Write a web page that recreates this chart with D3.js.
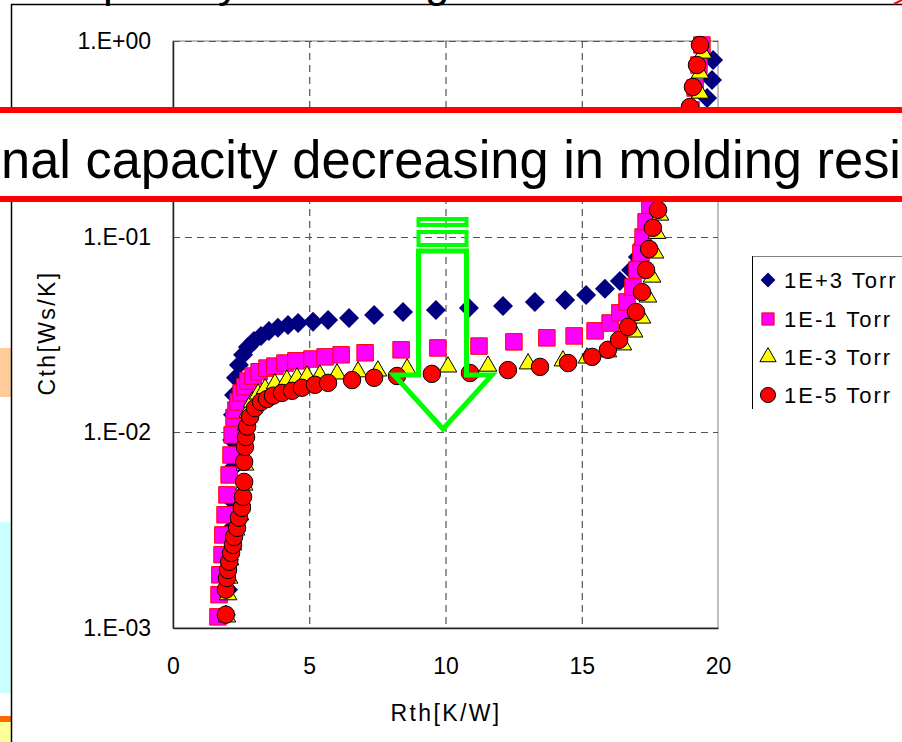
<!DOCTYPE html>
<html><head><meta charset="utf-8">
<script src="https://cdn.jsdelivr.net/npm/d3@7"></script>
<style>
body{margin:0;background:#fff;overflow:hidden;}
svg{display:block;font-family:"Liberation Sans",Arial,sans-serif;}
</style>
</head><body><svg id="c" width="902" height="742"></svg>
<script>
// ---------- data ----------
const seriesNames = ["1E+3 Torr","1E-1 Torr","1E-3 Torr","1E-5 Torr"];
const xTicks = [0,5,10,15,20];
const yTicks = [1e-3,1e-2,1e-1,1];
const yTickLabels = ["1.E-03","1.E-02","1.E-01","1.E+00"];
const bannerText = "nal capacity decreasing in molding resi";
const xTitle = "Rth[K/W]";
const yTitle = "Cth[Ws/K]";

const rthA = [1.94,2.02,2.06,2.09,2.13,2.13,2.17,2.20,2.24,2.31,2.42,2.57,2.75,2.97,3.23,3.52,3.85,4.22,4.59,5.14,5.69,6.46,7.38,8.44,9.65,10.86,12.11,13.28,14.39,15.16,15.85,16.40,16.81,17.06,17.25,17.39,17.54,17.85,18.40,18.95,19.35,19.60,19.78,19.82];
const cthA = [1.17e-3,1.57e-3,2.23e-3,3.17e-3,4.52e-3,6.43e-3,9.15e-3,1.23e-2,1.55e-2,1.90e-2,2.21e-2,2.49e-2,2.73e-2,2.93e-2,3.11e-2,3.30e-2,3.42e-2,3.54e-2,3.62e-2,3.67e-2,3.75e-2,3.84e-2,3.98e-2,4.12e-2,4.22e-2,4.32e-2,4.42e-2,4.64e-2,4.75e-2,5.04e-2,5.41e-2,5.94e-2,6.76e-2,7.87e-2,9.18e-2,0.108,0.129,0.17,0.23,0.31,0.40,0.511,0.632,0.80];

const rthB = [1.65,1.69,1.72,1.80,1.83,1.91,1.98,2.06,2.13,2.17,2.24,2.31,2.39,2.50,2.64,2.75,2.94,3.16,3.45,3.74,4.11,4.51,5.10,5.58,6.17,7.05,8.37,9.72,11.23,12.51,13.72,14.72,15.49,16.04,16.40,16.66,16.88,17.03,17.17,17.25,17.36,17.50,17.80,18.24,18.68,19.01,19.16,19.30,19.41];
const cthB = [1.14e-3,1.48e-3,1.87e-3,2.37e-3,2.99e-3,3.79e-3,4.79e-3,6.06e-3,7.66e-3,9.70e-3,1.19e-2,1.30e-2,1.43e-2,1.59e-2,1.71e-2,1.83e-2,1.94e-2,2.04e-2,2.13e-2,2.18e-2,2.26e-2,2.32e-2,2.37e-2,2.43e-2,2.49e-2,2.55e-2,2.64e-2,2.70e-2,2.76e-2,2.90e-2,3.04e-2,3.11e-2,3.30e-2,3.62e-2,4.08e-2,4.64e-2,5.53e-2,6.76e-2,8.26e-2,0.0996,0.119,0.145,0.195,0.261,0.351,0.444,0.575,0.754,0.954];

const rthC = [1.98,2.02,2.06,2.09,2.20,2.31,2.46,2.53,2.61,2.64,2.64,2.68,2.75,2.90,3.12,3.38,3.74,4.18,4.55,4.92,5.39,6.02,6.79,7.52,8.59,10.09,11.56,13.03,14.31,15.19,15.96,16.51,16.92,17.21,17.43,17.58,17.69,17.76,17.87,18.13,18.50,18.86,19.16,19.34,19.34,19.45];
const cthC = [1.14e-3,1.48e-3,1.80e-3,2.23e-3,2.66e-3,3.17e-3,3.79e-3,4.52e-3,5.38e-3,6.81e-3,8.93e-3,1.09e-2,1.27e-2,1.43e-2,1.57e-2,1.67e-2,1.77e-2,1.85e-2,1.90e-2,1.94e-2,1.96e-2,1.99e-2,2.04e-2,2.06e-2,2.11e-2,2.16e-2,2.18e-2,2.24e-2,2.32e-2,2.40e-2,2.58e-2,2.80e-2,3.26e-2,3.84e-2,4.92e-2,6.22e-2,8.26e-2,0.104,0.129,0.173,0.232,0.312,0.428,0.542,0.686,0.868];

const rthD = [1.94,1.94,1.98,2.02,2.06,2.13,2.20,2.24,2.35,2.42,2.53,2.57,2.61,2.61,2.64,2.68,2.72,2.83,3.01,3.23,3.45,3.67,4.00,4.37,4.73,5.21,5.69,6.57,7.38,8.22,9.50,10.90,12.29,13.47,14.50,15.38,15.96,16.37,16.70,16.99,17.21,17.36,17.47,17.61,17.80,18.06,18.42,18.75,18.97,19.08,19.23,19.34];
const cthD = [1.17e-3,1.57e-3,1.80e-3,1.98e-3,2.18e-3,2.42e-3,2.66e-3,2.92e-3,3.25e-3,3.66e-3,4.11e-3,4.68e-3,5.58e-3,7.06e-3,8.42e-3,9.46e-3,1.07e-2,1.20e-2,1.33e-2,1.43e-2,1.48e-2,1.54e-2,1.59e-2,1.63e-2,1.69e-2,1.75e-2,1.79e-2,1.85e-2,1.90e-2,1.94e-2,1.99e-2,2.01e-2,2.08e-2,2.16e-2,2.26e-2,2.43e-2,2.64e-2,2.97e-2,3.46e-2,4.12e-2,5.21e-2,6.76e-2,8.65e-2,0.111,0.137,0.184,0.247,0.331,0.460,0.582,0.754,0.954];

// ---------- layout ----------
const svg = d3.select("#c");
const L = 173, R = 718, T = 41, B = 628;
const x = d3.scaleLinear().domain([0,20]).range([L,R]);
const y = d3.scaleLog().domain([1e-3,1]).range([B,T]);

// background page decorations (slide edges)
svg.append("rect").attr("x",0).attr("y",348).attr("width",11).attr("height",49).attr("fill","#FFCC99");
svg.append("rect").attr("x",0).attr("y",522).attr("width",11).attr("height",171).attr("fill","#CCFFFF");
svg.append("rect").attr("x",0).attr("y",716).attr("width",11).attr("height",6).attr("fill","#FF6600");
svg.append("rect").attr("x",0).attr("y",722).attr("width",11).attr("height",20).attr("fill","#FFFF99");
svg.append("line").attr("x1",11.5).attr("x2",11.5).attr("y1",4).attr("y2",742).attr("stroke","#000").attr("stroke-width",1.5);
svg.append("line").attr("x1",11).attr("x2",902).attr("y1",4.5).attr("y2",4.5).attr("stroke","#000").attr("stroke-width",1.5);
svg.append("line").attr("x1",894).attr("x2",902).attr("y1",4).attr("y2",0).attr("stroke","#ff0000").attr("stroke-width",2);
// descenders of the cut-off title line above
[["p",103],["y",218],["g",425]].forEach(([t,px])=>{
  svg.append("text").attr("x",px).attr("y",-3).attr("font-size",44).attr("fill","#000").text(t);
});

// plot area
svg.append("rect").attr("x",L).attr("y",T).attr("width",R-L).attr("height",B-T)
  .attr("fill","#fff").attr("stroke","#808080").attr("stroke-width",1);

// gridlines
const grid = svg.append("g");
grid.selectAll("line.v").data([5,10,15]).join("line")
  .attr("x1",d=>x(d)+0.5).attr("x2",d=>x(d)+0.5).attr("y1",T).attr("y2",B)
  .attr("stroke","#333").attr("stroke-dasharray","7,5").attr("stroke-width",1);
grid.selectAll("line.h").data([1e-2,1e-1,1]).join("line")
  .attr("x1",L).attr("x2",R).attr("y1",d=>Math.round(y(d))+0.5).attr("y2",d=>Math.round(y(d))+0.5)
  .attr("stroke","#555").attr("stroke-dasharray","7,5").attr("stroke-width",1);

// axes
const xAxis = svg.append("g").attr("transform",`translate(0,${B})`)
  .call(d3.axisBottom(x).tickValues(xTicks).tickSize(0).tickPadding(30).tickFormat(d3.format("d")));
const yAxis = svg.append("g").attr("transform",`translate(${L},0)`)
  .call(d3.axisLeft(y).tickValues(yTicks).tickSize(0).tickPadding(22).tickFormat((d,i)=>yTickLabels[i]));
[xAxis,yAxis].forEach(a=>{
  a.select(".domain").attr("stroke","#222").attr("stroke-width",1.5);
  a.selectAll("text").attr("font-family","Liberation Sans, Arial, sans-serif").attr("font-size",23).attr("fill","#000");
});

svg.append("text").attr("x",446).attr("y",721).attr("text-anchor","middle")
  .attr("font-size",23).attr("letter-spacing",2.4).attr("fill","#000").text(xTitle);
svg.append("text").attr("transform","translate(55,333) rotate(-90)").attr("text-anchor","middle")
  .attr("font-size",23).attr("letter-spacing",2.4).attr("fill","#000").text(yTitle);

// markers
const series = [
  {name:seriesNames[0], xs:rthA, ys:cthA, sym:d3.symbolSquare, size:200, rot:45, fill:"#000080", stroke:"none", sw:0, lsize:110},
  {name:seriesNames[1], xs:rthB, ys:cthB, sym:d3.symbolSquare, size:272, rot:0, fill:"#FF00FF", stroke:"#FF0000", sw:1, lsize:150},
  {name:seriesNames[2], xs:rthC, ys:cthC, sym:d3.symbolTriangle, size:135, rot:0, fill:"#FFFF00", stroke:"#000", sw:1, lsize:115},
  {name:seriesNames[3], xs:rthD, ys:cthD, sym:d3.symbolCircle, size:240, rot:0, fill:"#FF0000", stroke:"#000", sw:1, lsize:180},
];
series.forEach(s=>{
  const pts = s.xs.map((v,i)=>[v,s.ys[i]]);
  svg.append("g").selectAll("path").data(pts).join("path")
    .attr("d",d3.symbol().type(s.sym).size(s.size))
    .attr("transform",d=>`translate(${x(d[0])},${y(d[1])}) rotate(${s.rot})`)
    .attr("fill",s.fill).attr("stroke",s.stroke).attr("stroke-width",s.sw);
});

// legend
const lg = svg.append("g");
lg.append("line").attr("x1",752).attr("x2",902).attr("y1",256.5).attr("y2",256.5).attr("stroke","#808080");
lg.append("line").attr("x1",752.5).attr("x2",752.5).attr("y1",256).attr("y2",409).attr("stroke","#000");
const ly = [280,319,357,395];
series.forEach((s,i)=>{
  lg.append("path").attr("d",d3.symbol().type(s.sym).size(s.lsize)())
    .attr("transform",`translate(768,${ly[i]}) rotate(${s.rot})`)
    .attr("fill",s.fill).attr("stroke",s.stroke).attr("stroke-width",s.sw);
  lg.append("text").attr("x",784).attr("y",ly[i]+8).attr("font-size",22).attr("letter-spacing",2)
    .attr("fill","#000").text(s.name);
});

// green arrow
const ag = svg.append("g").attr("fill","none").attr("stroke","#00FF00");
ag.append("rect").attr("x",418.5).attr("y",219).attr("width",48).attr("height",6).attr("stroke-width",4);
ag.append("rect").attr("x",418.5).attr("y",232).attr("width",48).attr("height",13).attr("stroke-width",4);
ag.append("path").attr("stroke-width",5).attr("stroke-linejoin","miter")
  .attr("d","M418.5,251 L418.5,375 L394,375 L443,429 L492,375 L466.5,375 L466.5,251 Z");

// banner
const bn = svg.append("g");
bn.append("rect").attr("x",0).attr("y",110).attr("width",902).attr("height",90).attr("fill","#fff");
bn.append("rect").attr("x",0).attr("y",107).attr("width",902).attr("height",6).attr("fill","#FF0000");
bn.append("rect").attr("x",0).attr("y",196).attr("width",902).attr("height",6).attr("fill","#FF0000");
bn.append("text").attr("x",1).attr("y",178).attr("font-size",54).attr("fill","#000")
  .attr("textLength",900).attr("lengthAdjust","spacingAndGlyphs").text(bannerText);
</script>
</body></html>
